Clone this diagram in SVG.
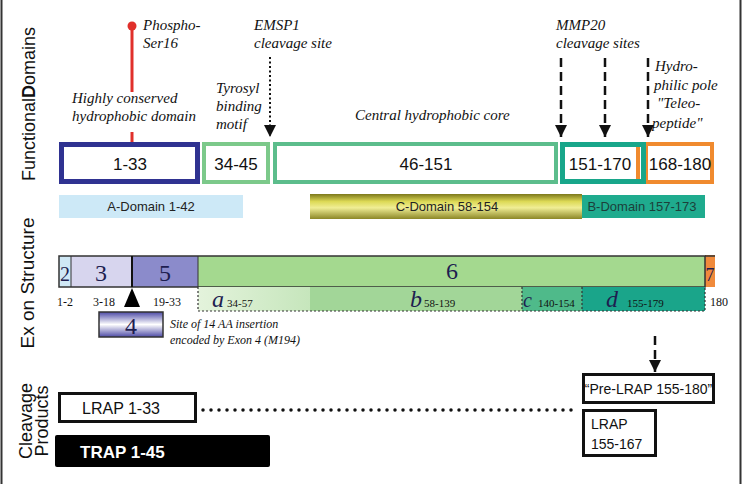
<svg xmlns="http://www.w3.org/2000/svg" width="743" height="484" viewBox="0 0 743 484">
<style>
.sec{font-family:"Liberation Sans",Arial,sans-serif;font-size:18px;fill:#111}
.ann{font-family:"Liberation Serif","Times New Roman",serif;font-style:italic;font-size:15px;fill:#111}
.ann2{font-family:"Liberation Serif","Times New Roman",serif;font-style:italic;font-size:12px;fill:#111}
.num{font-family:"Liberation Sans",Arial,sans-serif;font-size:17px;fill:#111;text-anchor:middle}
.dom{font-family:"Liberation Sans",Arial,sans-serif;font-size:13px;fill:#222;text-anchor:middle}
.ex{font-family:"Liberation Serif","Times New Roman",serif;font-size:24px;fill:#1e1e50;text-anchor:middle}
.sm{font-family:"Liberation Serif","Times New Roman",serif;font-size:12px;fill:#111}
.sub{font-family:"Liberation Serif","Times New Roman",serif;font-style:italic;font-size:24px;fill:#1e1e50}
.cp{font-family:"Liberation Sans",Arial,sans-serif;font-size:16px;fill:#111}
.cp14{font-family:"Liberation Sans",Arial,sans-serif;font-size:14px;fill:#111}
.box{fill:#fff}
.dash{stroke:#111;stroke-width:2.5;stroke-dasharray:9 5;fill:none}
.dot{stroke:#333;stroke-width:1.2;stroke-dasharray:2 2;fill:none}
</style>
<defs>
<linearGradient id="gC" x1="0" y1="0" x2="0" y2="1">
<stop offset="0" stop-color="#7c781c"/>
<stop offset="0.3" stop-color="#dcd955"/>
<stop offset="0.55" stop-color="#f0ee95"/>
<stop offset="1" stop-color="#8c8726"/>
</linearGradient>
<linearGradient id="g4" x1="0" y1="0" x2="0" y2="1">
<stop offset="0" stop-color="#4d4aa6"/>
<stop offset="0.5" stop-color="#ffffff"/>
<stop offset="1" stop-color="#4d4aa6"/>
</linearGradient>
<linearGradient id="gA" x1="0" y1="0" x2="1" y2="0">
<stop offset="0" stop-color="#e4f3dc"/>
<stop offset="1" stop-color="#c6e6bc"/>
</linearGradient>
<marker id="ah" viewBox="0 0 12 12" refX="12" refY="6" markerWidth="12" markerHeight="12" markerUnits="userSpaceOnUse" orient="auto">
<path d="M0,0 L12,6 L0,12 Z" fill="#111"/>
</marker>
</defs>

<!-- frame -->
<line x1="1.5" y1="0" x2="1.5" y2="484" stroke="#333" stroke-width="2"/>
<line x1="740.5" y1="0" x2="740.5" y2="484" stroke="#333" stroke-width="2"/>

<!-- section labels -->
<g id="section-labels">
<text class="sec" transform="translate(35,104) rotate(-90)" text-anchor="middle">Functional<tspan font-weight="bold">D</tspan>omains</text>
<text class="sec" transform="translate(34,283) rotate(-90)" text-anchor="middle" style="font-size:19px">Ex on Structure</text>
<text class="sec" transform="translate(32,421) rotate(-90)" text-anchor="middle">Cleavage</text>
<text class="sec" transform="translate(48,421) rotate(-90)" text-anchor="middle">Products</text>
</g>

<!-- Functional domains -->
<g id="dom-1-33">
<rect x="61.5" y="144.5" width="136" height="37" class="box" stroke="#2f3291" stroke-width="5"/>
<text class="num" x="130" y="170">1-33</text>
</g>
<g id="dom-34-45">
<rect x="204" y="144" width="64" height="38" class="box" stroke="#7cc98a" stroke-width="4"/>
<text class="num" x="236" y="170">34-45</text>
</g>
<g id="dom-46-151">
<rect x="275" y="144" width="281" height="38" class="box" stroke="#5cbd8c" stroke-width="4"/>
<text class="num" x="426" y="170">46-151</text>
</g>
<g id="dom-168-180">
<rect x="646" y="144" width="66" height="38" class="box" stroke="#f08a2e" stroke-width="4"/>
<text class="num" x="680" y="170">168-180</text>
</g>
<g id="dom-151-170">
<rect x="562.5" y="144.5" width="81" height="37" class="box" stroke="#18a68a" stroke-width="5"/>
<rect x="636" y="147" width="4" height="32" fill="#f08a2e"/>
<text class="num" x="600" y="170">151-170</text>
</g>

<!-- domain bars -->
<g id="a-domain">
<rect x="59" y="195" width="184" height="23" fill="#cde9f7"/>
<text class="dom" x="151" y="211">A-Domain 1-42</text>
</g>
<g id="c-domain">
<rect x="310" y="194" width="272" height="25" fill="url(#gC)"/>
<text class="dom" x="447" y="211">C-Domain 58-154</text>
</g>
<g id="b-domain">
<rect x="582" y="195" width="123" height="23" fill="#1fab8e"/>
<text class="dom" x="642" y="211" style="fill:#1c3f3a">B-Domain 157-173</text>
</g>

<!-- annotations -->
<g id="phospho">
<line x1="132" y1="27" x2="132" y2="92" stroke="#e0302b" stroke-width="3"/>
<line x1="132" y1="132" x2="132" y2="142" stroke="#e0302b" stroke-width="3"/>
<circle cx="132" cy="26" r="4.5" fill="#e0302b"/>
<text class="ann" x="143" y="30">Phospho-</text>
<text class="ann" x="143" y="48">Ser16</text>
</g>
<g id="hydrophobic-label">
<text class="ann" x="72" y="103">Highly conserved</text>
<text class="ann" x="72" y="121">hydrophobic domain</text>
</g>
<g id="tyrosyl-label">
<text class="ann" x="216" y="93">Tyrosyl</text>
<text class="ann" x="216" y="111">binding</text>
<text class="ann" x="216" y="129">motif</text>
</g>
<g id="emsp1-label">
<text class="ann" x="254" y="30">EMSP1</text>
<text class="ann" x="254" y="48">cleavage site</text>
</g>
<g id="central-label">
<text class="ann" x="355" y="120">Central hydrophobic core</text>
</g>
<g id="mmp20-label">
<text class="ann" x="556" y="30">MMP20</text>
<text class="ann" x="556" y="48">cleavage sites</text>
</g>
<g id="teleo-label">
<text class="ann" x="655" y="71">Hydro-</text>
<text class="ann" x="654" y="90">philic pole</text>
<text class="ann" x="657" y="108">"Teleo-</text>
<text class="ann" x="652" y="128">peptide"</text>
</g>

<!-- Exon structure -->
<g id="exon-bar">
<rect x="59" y="256" width="12" height="31" fill="#cfe8f5"/>
<rect x="71" y="256" width="61" height="31" fill="#d7d5ee"/>
<rect x="132" y="256" width="66" height="31" fill="#8b8bcb"/>
<rect x="198" y="256" width="507" height="31" fill="#a4d98f"/>
<rect x="705" y="255" width="10" height="32" fill="#f08a3c"/>
<rect x="59" y="256" width="646" height="31" fill="none" stroke="#333" stroke-width="1.5"/>
<line x1="71" y1="256" x2="71" y2="287" stroke="#333" stroke-width="1"/>
<line x1="132" y1="256" x2="132" y2="287" stroke="#111" stroke-width="2"/>
<line x1="198" y1="256" x2="198" y2="287" stroke="#333" stroke-width="1"/>
<line x1="705" y1="256" x2="715" y2="256" stroke="#333" stroke-width="1.5"/>
<text class="ex" x="65" y="281" style="font-size:20px">2</text>
<text class="ex" x="101" y="281">3</text>
<text class="ex" x="165" y="281">5</text>
<text class="ex" x="452" y="279">6</text>
<text class="ex" x="710" y="281" style="font-size:18px">7</text>
</g>
<g id="subdomains">
<rect x="198" y="287" width="112" height="24" fill="url(#gA)"/>
<rect x="310" y="287" width="212" height="24" fill="#a2d698"/>
<rect x="522" y="287" width="60" height="24" fill="#4fba8a"/>
<rect x="582" y="287" width="123" height="24" fill="#1aa58a"/>
<path class="dot" d="M198,287 V311 H705 V287 M522,287 V311 M582,287 V311"/>
<text class="sub" x="212" y="307">a</text><text class="sm" x="227" y="307" style="font-size:11px">34-57</text>
<text class="sub" x="410" y="307">b</text><text class="sm" x="424" y="307" style="font-size:11px">58-139</text>
<text class="sub" x="523" y="307" style="font-size:20px">c</text><text class="sm" x="538" y="307" style="font-size:11px">140-154</text>
<text class="sub" x="606" y="307">d</text><text class="sm" x="627" y="307" style="font-size:11px">155-179</text>
</g>
<g id="exon-numbers">
<text class="sm" x="57" y="306">1-2</text>
<text class="sm" x="93" y="306">3-18</text>
<text class="sm" x="153" y="306">19-33</text>
<text class="sm" x="710" y="306">180</text>
<path d="M124,307 L140,307 L132,288 Z" fill="#000"/>
</g>
<g id="exon-4">
<rect x="99" y="312" width="64" height="25" fill="url(#g4)" stroke="#333" stroke-width="1.5"/>
<text class="ex" x="131" y="334">4</text>
<text class="ann2" x="170" y="328">Site of 14 AA insertion</text>
<text class="ann2" x="170" y="344">encoded by Exon 4 (M194)</text>
</g>

<!-- Cleavage products -->
<g id="lrap-1-33">
<rect x="59.5" y="393.5" width="136" height="28" class="box" stroke="#111" stroke-width="3"/>
<text class="cp" x="82" y="414">LRAP 1-33</text>
</g>
<g id="trap-1-45">
<rect x="55" y="435" width="215" height="32" rx="2" fill="#000"/>
<text class="cp" x="80" y="458" style="fill:#fff;font-weight:bold;font-size:17px">TRAP 1-45</text>
</g>
<g id="pre-lrap">
<rect x="583.5" y="374.5" width="130" height="28" class="box" stroke="#111" stroke-width="3"/>
<text class="cp14" x="648.5" y="394" text-anchor="middle">“Pre-LRAP 155-180”</text>
</g>
<g id="lrap-155-167">
<rect x="583.5" y="410.5" width="72" height="45" class="box" stroke="#111" stroke-width="3"/>
<text class="cp14" x="591" y="429">LRAP</text>
<text class="cp14" x="591" y="449">155-167</text>
</g>

<!-- connectors -->
<g id="connectors">
<line x1="270" y1="57" x2="270" y2="137" stroke="#111" stroke-width="2" stroke-dasharray="2 2.5" marker-end="url(#ah)"/>
<line x1="561" y1="58" x2="561" y2="137" class="dash" marker-end="url(#ah)"/>
<line x1="605" y1="58" x2="605" y2="137" class="dash" marker-end="url(#ah)"/>
<line x1="648" y1="58" x2="648" y2="137" class="dash" marker-end="url(#ah)"/>
<line x1="655" y1="336" x2="655" y2="372" class="dash" marker-end="url(#ah)"/>
<line x1="203" y1="410" x2="578" y2="410" stroke="#111" stroke-width="3.5" stroke-linecap="round" stroke-dasharray="0 8"/>
</g>
</svg>
